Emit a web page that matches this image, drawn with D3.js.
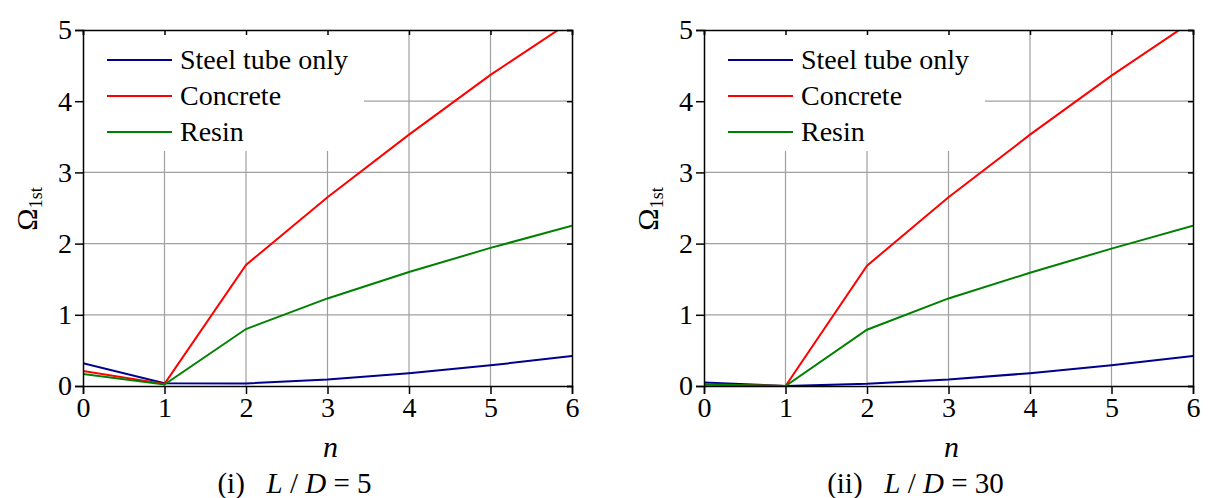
<!DOCTYPE html>
<meta charset="utf-8">
<style>
body { margin: 0; background: #fff; }
.grid line { stroke: #a0a0a0; stroke-width: 1.2; }
.axis path, .axis line { stroke: #000; stroke-width: 1.5; }
</style>
<svg width="1208" height="498"></svg>
<script src="https://cdn.jsdelivr.net/npm/d3@7"></script>
<script>

// data
var nValues = [0, 1, 2, 3, 4, 5, 6];
var seriesNames = ["Steel tube only", "Concrete", "Resin"];
var seriesColors = ["#00008b", "#ff0000", "#008000"];

var steelLD5 = [0.32, 0.04, 0.035, 0.09, 0.18, 0.29, 0.42];
var concreteLD5 = [0.21, 0.03, 1.70, 2.65, 3.53, 4.37, 5.13];
var resinLD5 = [0.17, 0.02, 0.80, 1.23, 1.60, 1.94, 2.25];

var steelLD30 = [0.05, 0.0, 0.03, 0.09, 0.18, 0.29, 0.42];
var concreteLD30 = [0.02, 0.0, 1.69, 2.65, 3.53, 4.36, 5.13];
var resinLD30 = [0.02, 0.0, 0.79, 1.23, 1.59, 1.93, 2.25];

var yTicks = [0, 1, 2, 3, 4, 5];

var serif = "'Liberation Serif', 'Times New Roman', serif";
var svg = d3.select("svg");

var plotW = 489, plotTop = 30, plotBottom = 386;

function drawPanel(x0, series, label, idx) {
  var x = d3.scaleLinear().domain([0, 6]).range([x0, x0 + plotW]);
  var y = d3.scaleLinear().domain([0, 5]).range([plotBottom, plotTop]);
  var g = svg.append("g");

  g.append("clipPath").attr("id", "clip" + idx)
    .append("rect")
      .attr("x", x0).attr("y", plotTop)
      .attr("width", plotW).attr("height", plotBottom - plotTop);

  // grid
  var grid = g.append("g").attr("class", "grid");
  grid.selectAll(".gx").data(nValues.slice(1, -1)).enter().append("line")
      .attr("x1", function(d) { return x(d); })
      .attr("x2", function(d) { return x(d); })
      .attr("y1", plotTop).attr("y2", plotBottom);
  grid.selectAll(".gy").data(yTicks.slice(1, -1)).enter().append("line")
      .attr("y1", function(d) { return y(d); })
      .attr("y2", function(d) { return y(d); })
      .attr("x1", x0).attr("x2", x0 + plotW);

  // legend background hides the grid
  var lw = 280, lh = 120;
  g.append("rect")
      .attr("x", x0 + 1).attr("y", plotTop + 1)
      .attr("width", lw).attr("height", lh)
      .attr("fill", "#fff");

  // lines
  var line = d3.line()
      .x(function(d, i) { return x(nValues[i]); })
      .y(function(d) { return y(d); });
  g.append("g").attr("clip-path", "url(#clip" + idx + ")")
    .selectAll("path").data(series).enter().append("path")
      .attr("d", line)
      .attr("fill", "none")
      .attr("stroke-width", 2)
      .attr("stroke", function(d, i) { return seriesColors[i]; });

  // axes
  var fs = "28px";
  g.append("g").attr("class", "axis")
      .attr("transform", "translate(0," + plotBottom + ")")
      .call(d3.axisBottom(x).tickValues(nValues).tickFormat(d3.format("d")).tickSizeOuter(0).tickSize(8).tickPadding(3))
      .call(function(a) { a.selectAll("text").style("font-size", fs); });
  g.append("g").attr("class", "axis")
      .attr("transform", "translate(" + x0 + ",0)")
      .call(d3.axisLeft(y).tickValues(yTicks).tickFormat(d3.format("d")).tickSizeOuter(0).tickSize(8).tickPadding(3))
      .call(function(a) { a.selectAll("text").style("font-size", fs); });
  g.append("g").attr("class", "axis")
      .attr("transform", "translate(0," + plotTop + ")")
      .call(d3.axisBottom(x).tickValues(nValues).tickFormat("").tickSizeOuter(0).tickSize(5));
  g.append("g").attr("class", "axis")
      .attr("transform", "translate(" + (x0 + plotW) + ",0)")
      .call(d3.axisLeft(y).tickValues(yTicks).tickFormat("").tickSizeOuter(0).tickSize(5));
  g.selectAll(".axis .domain").attr("stroke-width", 1.6);

  // legend
  var leg = g.append("g").selectAll("g").data(seriesNames).enter().append("g")
      .attr("transform", function(d, i) { return "translate(" + (x0 + 24) + "," + (60 + i * 36) + ")"; });
  leg.append("line")
      .attr("x1", 0).attr("x2", 65)
      .attr("stroke-width", 2)
      .attr("stroke", function(d, i) { return seriesColors[i]; });
  leg.append("text")
      .attr("x", 73).attr("dy", "0.33em")
      .style("font-size", "28px")
      .text(function(d) { return d; });

  // axis titles
  var cx = x0 + plotW / 2;
  g.append("text")
      .attr("x", cx + 3).attr("y", 457)
      .attr("text-anchor", "middle")
      .style("font-size", "30px").style("font-style", "italic")
      .text("n");

  var yl = g.append("text")
      .attr("transform", "translate(" + (x0 - 46) + ",209) rotate(-90)")
      .attr("text-anchor", "middle")
      .style("font-size", "30px");
  yl.append("tspan").text("Ω");
  yl.append("tspan").attr("dy", 5).style("font-size", "18px").text("1st");

  // caption is centred on the whole panel, not the plot
  var cap = g.append("text")
      .attr("x", cx - 33).attr("y", 493)
      .attr("text-anchor", "middle")
      .style("font-size", "29px");
  cap.append("tspan").text(label[0] + "\u00a0\u00a0 ");
  cap.append("tspan").style("font-style", "italic").text("L");
  cap.append("tspan").text(" / ");
  cap.append("tspan").style("font-style", "italic").text("D");
  cap.append("tspan").text(" = " + label[1]);
}

drawPanel(83, [steelLD5, concreteLD5, resinLD5], ["(i)", "5"], 0);
drawPanel(704, [steelLD30, concreteLD30, resinLD30], ["(ii)", "30"], 1);

// every text in the serif face
svg.selectAll("text").style("font-family", serif).style("fill", "#000");

</script>
